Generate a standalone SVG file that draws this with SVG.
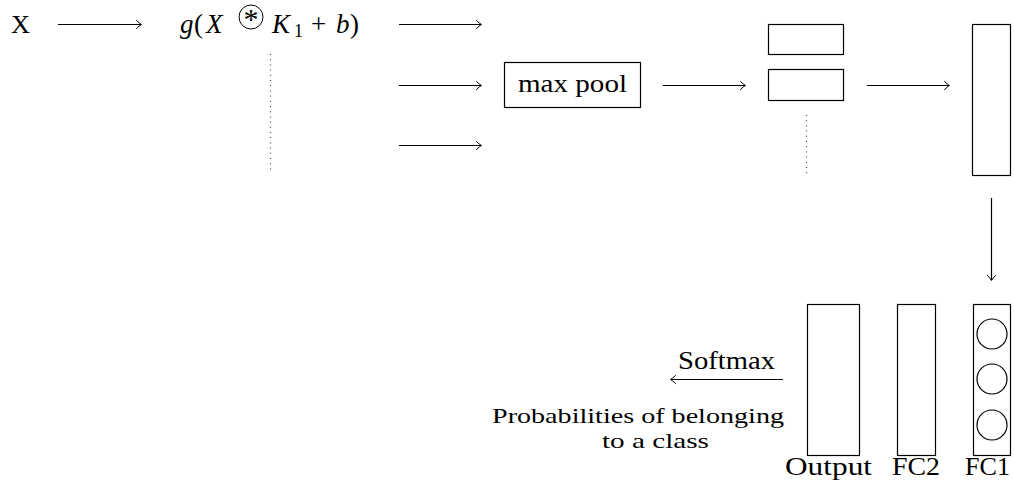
<svg xmlns="http://www.w3.org/2000/svg" width="1014" height="495" viewBox="0 0 1014 495">
<style>
text{font-family:'Liberation Serif','Times New Roman',serif;font-size:25px;fill:#000}
.it{font-style:italic}
.box{fill:none;stroke:#000;stroke-width:1.2}
.ln{fill:none;stroke:#000;stroke-width:1.2}
.dot{fill:none;stroke:#444;stroke-width:1.2;stroke-dasharray:1 4.2}
.sm{font-size:22px}
</style>
<defs>
<marker id="ah" viewBox="-6 -5 8 10" markerWidth="8" markerHeight="10" refX="0" refY="0" orient="auto" markerUnits="userSpaceOnUse">
<path d="M-4.5,-4 Q-1.5,-1 0.5,0 Q-1.5,1 -4.5,4" fill="none" stroke="#000" stroke-width="1" stroke-linecap="round"/>
</marker>
</defs>
<g id="n-x"><text x="11" y="33" textLength="19" lengthAdjust="spacingAndGlyphs">X</text></g>
<g id="n-conv">
<text x="180" y="33" style="font-size:27px"><tspan class="it">g</tspan><tspan x="194">(</tspan><tspan class="it" x="206">X</tspan></text>
<circle cx="251" cy="17" r="12" fill="none" stroke="#000" stroke-width="1"/>
<text x="251" y="29" text-anchor="middle" style="font-size:30px">*</text>
<text x="272" y="33" style="font-size:27px"><tspan class="it">K</tspan><tspan x="294" y="37" style="font-size:18px">1</tspan><tspan x="311" y="33">+</tspan><tspan class="it" x="336">b</tspan><tspan x="350">)</tspan></text>
</g>
<g id="n-maxpool"><rect class="box" x="504.5" y="62.5" width="136" height="45"/><text x="518" y="92" textLength="109" lengthAdjust="spacingAndGlyphs">max pool</text></g>
<g id="n-maps"><rect class="box" x="768.5" y="24.5" width="75" height="30"/><rect class="box" x="768.5" y="69.5" width="75" height="31"/></g>
<g id="n-flat"><rect class="box" x="972.5" y="24.5" width="38" height="151"/></g>
<g id="n-fc1"><rect class="box" x="973.5" y="304.5" width="37" height="151"/>
<circle class="box" cx="992" cy="334" r="15"/><circle class="box" cx="992" cy="379" r="15"/><circle class="box" cx="992" cy="425" r="15"/>
<text x="965" y="475" textLength="45" lengthAdjust="spacingAndGlyphs">FC1</text></g>
<g id="n-fc2"><rect class="box" x="897.5" y="304.5" width="38" height="151"/><text x="892" y="475" textLength="48" lengthAdjust="spacingAndGlyphs">FC2</text></g>
<g id="n-output"><rect class="box" x="807.5" y="304.5" width="52" height="151"/><text x="785" y="475" textLength="87" lengthAdjust="spacingAndGlyphs">Output</text></g>
<g id="n-prob"><text class="sm" x="492" y="423" textLength="292" lengthAdjust="spacingAndGlyphs">Probabilities of belonging</text>
<text class="sm" x="602" y="448" textLength="107" lengthAdjust="spacingAndGlyphs">to a class</text></g>
<g id="connectors">
<line class="ln" x1="58" y1="24.5" x2="141" y2="24.5" marker-end="url(#ah)"/>
<line class="ln" x1="399" y1="24.5" x2="481" y2="24.5" marker-end="url(#ah)"/>
<line class="ln" x1="399" y1="85.5" x2="481" y2="85.5" marker-end="url(#ah)"/>
<line class="ln" x1="399" y1="145.5" x2="481" y2="145.5" marker-end="url(#ah)"/>
<line class="ln" x1="663" y1="85.5" x2="745" y2="85.5" marker-end="url(#ah)"/>
<line class="ln" x1="867" y1="85.5" x2="949" y2="85.5" marker-end="url(#ah)"/>
<line class="ln" x1="991.5" y1="198" x2="991.5" y2="280" marker-end="url(#ah)"/>
<line class="ln" x1="783" y1="379.5" x2="671" y2="379.5" marker-end="url(#ah)"/>
<line class="dot" x1="270.5" y1="54" x2="270.5" y2="173"/>
<line class="dot" x1="806.5" y1="115" x2="806.5" y2="174"/>
<text x="678" y="369" textLength="97" lengthAdjust="spacingAndGlyphs">Softmax</text>
</g>
</svg>
